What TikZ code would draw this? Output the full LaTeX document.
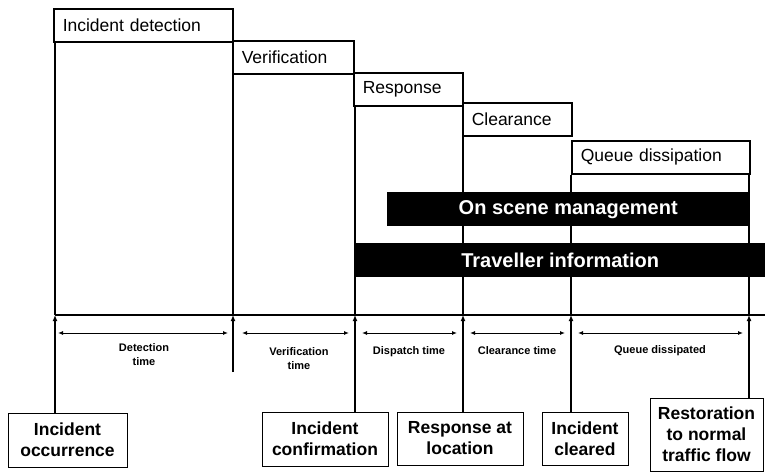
\documentclass[tikz,border=0pt]{standalone}
\usepackage{fontspec}
\setmainfont{Liberation Sans}
\usetikzlibrary{arrows.meta,positioning,calc}

\begin{document}
\begin{tikzpicture}[
  x=1pt, y=-1pt,
  phase/.style={draw,line width=1.5pt,anchor=north west,minimum height=33pt,
                inner xsep=9pt,inner ysep=0pt,align=left,
                font=\fontsize{17.5}{21}\selectfont},
  band/.style={fill=black,text=white,anchor=north west,minimum height=34pt,
               inner sep=0pt,font=\bfseries\fontsize{20}{24}\selectfont},
  event/.style={draw,line width=1pt,align=center,inner sep=0pt,
                font=\bfseries\fontsize{17.5}{21}\selectfont},
  span/.style={{Latex[length=5pt,width=4pt]}-{Latex[length=5pt,width=4pt]},
               line width=1pt,shorten <=7pt,shorten >=6pt},
  spanlabel/.style={align=center,inner sep=1pt,
                    font=\bfseries\fontsize{11}{14}\selectfont},
  tick/.style={-{Latex[length=6pt,width=5pt]},line width=1.6pt},
  rule/.style={line width=1.6pt},
]
\useasboundingbox (0,0) rectangle (765,472);

\node[phase,text width=161pt] (det)   at (53,8)    {Incident detection};
\node[phase,text width=103pt] (ver)   at (232,40)  {Verification};
\node[phase,text width=91pt]  (resp)  at (353,72)  {Response};
\node[phase,text width=91pt]  (clr)   at (462,102) {Clearance};
\node[phase,text width=160pt] (queue) at (571,140) {Queue dissipation};

\coordinate (t1) at (55,315);
\coordinate (t2) at (233,315);
\coordinate (t3) at (355,315);
\coordinate (t4) at (463,315);
\coordinate (t5) at (571,315);
\coordinate (t6) at (749,315);
\coordinate (axend) at (765,315);
\coordinate (v2) at (233,372);

\draw[rule] (t1) -- (t1 |- det.south);
\draw[rule] (t2) -- (t2 |- ver.south);
\draw[rule] (t3) -- (t3 |- resp.south);
\draw[rule] (t4) -- (t4 |- clr.south);
\draw[rule] (t5) -- (t5 |- queue.south);
\draw[rule] (t6) -- (t6 |- queue.south);
\draw[line width=2pt] (t1) -- (axend);

\node[band,minimum width=362pt] (onscene) at (387,192) {On scene management};
\node[band,minimum width=410pt] (travel)  at (355,243) {Traveller information};

\node[event,minimum width=119pt,minimum height=54pt] (occ)     at (67.5,440)  {Incident\\occurrence};
\node[event,minimum width=126pt,minimum height=54pt] (confirm) at (325,439)   {Incident\\confirmation};
\node[event,minimum width=126pt,minimum height=53pt] (atloc)   at (460,438.5) {Response at\\location};
\node[event,minimum width=86pt, minimum height=53pt] (cleared) at (585,438.5) {Incident\\cleared};
\node[event,minimum width=113pt,minimum height=73pt] (restore) at (706.5,434.5) {Restoration\\to normal\\traffic flow};

\draw[tick] (occ.north -| t1)     -- (t1);
\draw[tick] (v2)                  -- (t2);
\draw[tick] (confirm.north -| t3) -- (t3);
\draw[tick] (atloc.north -| t4)   -- (t4);
\draw[tick] (cleared.north -| t5) -- (t5);
\draw[tick] (restore.north -| t6) -- (t6);

\coordinate (s1) at (55,333);
\coordinate (s2) at (233,333);
\coordinate (s3) at (355,333);
\coordinate (s4) at (463,333);
\coordinate (s5) at (571,333);
\coordinate (s6) at (749,333);

\draw[span,shorten <=3pt,shorten >=5pt] (s1) -- (s2)
  node[spanlabel,midway,below=9pt]{Detection\\time};
\draw[span,shorten <=9pt] (s2) -- (s3)
  node[spanlabel,midway,below=13pt,xshift=5pt]{Verification\\time};
\draw[span] (s3) -- (s4) node[spanlabel,midway,below=12pt]{Dispatch time};
\draw[span] (s4) -- (s5) node[spanlabel,midway,below=12pt]{Clearance time};
\draw[span] (s5) -- (s6) node[spanlabel,midway,below=11pt]{Queue dissipated};
\end{tikzpicture}
\end{document}
